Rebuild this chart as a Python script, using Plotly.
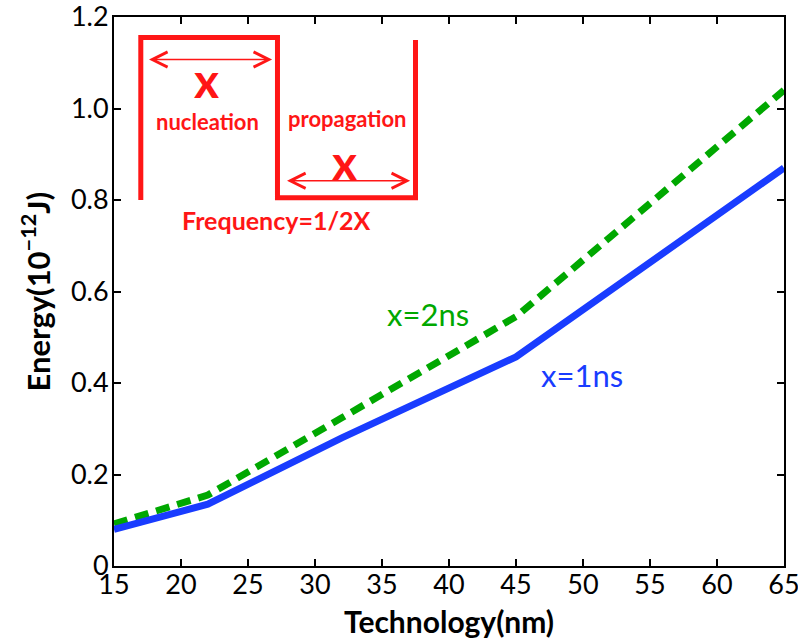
import plotly.graph_objects as go

# Technology node (nm) and switching energy (1e-12 J)
technology = [15, 22, 32, 45, 65]
energy_1ns = [0.080, 0.135, 0.280, 0.457, 0.870]
energy_2ns = [0.092, 0.155, 0.324, 0.545, 1.040]

x_ticks = [15, 20, 25, 30, 35, 40, 45, 50, 55, 60, 65]
y_ticks = [0, 0.2, 0.4, 0.6, 0.8, 1.0, 1.2]
y_tick_text = ["0", "0.2", "0.4", "0.6", "0.8", "1.0", "1.2"]

BLUE = "rgb(25,60,255)"
GREEN = "rgb(0,168,0)"
RED = "rgb(255,22,22)"
FONT = "Lato"

fig = go.Figure()
fig.add_trace(go.Scatter(x=technology, y=energy_2ns, mode="lines",
                         line=dict(color=GREEN, width=7, dash="14px,8px"),
                         showlegend=False))
fig.add_trace(go.Scatter(x=technology, y=energy_1ns, mode="lines",
                         line=dict(color=BLUE, width=7),
                         showlegend=False))

# Square-wave schematic of the write pulse (corners in data units)
wave_x = [17.0, 17.0, 27.2, 27.2, 37.5, 37.5]
wave_y = [0.800, 1.155, 1.155, 0.805, 0.805, 1.150]
path = "M " + " L ".join(f"{a},{b}" for a, b in zip(wave_x, wave_y))
fig.add_shape(type="path", path=path, xref="x", yref="y",
              line=dict(color=RED, width=5))

# Double-headed arrows marking each half period
arrows = [((17.5, 1.107), (26.8, 1.107)), ((27.8, 0.842), (37.1, 0.842))]
for (x0, y0), (x1, y1) in arrows:
    fig.add_annotation(x=x1, y=y1, ax=x0, ay=y0, xref="x", yref="y",
                       axref="x", ayref="y", text="", showarrow=True,
                       arrowhead=5, startarrowhead=5, arrowside="end+start",
                       arrowsize=2.0, startarrowsize=2.0, arrowwidth=1.5,
                       arrowcolor=RED)

labels = [
    (21.9, 1.063, "<b>x</b>", 48, RED),
    (32.2, 0.884, "<b>x</b>", 48, RED),
    (22.0, 0.972, "<b>nucleation</b>", 22, RED),
    (32.4, 0.978, "<b>propagation</b>", 22, RED),
    (27.1, 0.757, "<b>Frequency=1/2X</b>", 25, RED),
    (38.4, 0.551, "x=2ns", 31, GREEN),
    (49.9, 0.418, "x=1ns", 31, BLUE),
]
for x, y, t, s, c in labels:
    fig.add_annotation(x=x, y=y, xref="x", yref="y", text=t, showarrow=False,
                       xanchor="center", yanchor="middle",
                       font=dict(family=FONT, size=s, color=c))

# Axis titles
fig.add_annotation(x=-0.1164, y=0.5, xref="paper", yref="paper",
                   xanchor="center", yanchor="middle",
                   text="<b>Energy(10<sup>\u221212</sup>J)</b>", textangle=-90,
                   showarrow=False, font=dict(family=FONT, size=31, color="black"))
fig.add_annotation(x=0.5, y=-0.1, xref="paper", yref="paper",
                   xanchor="center", yanchor="middle",
                   text="<b>Technology(nm)</b>",
                   showarrow=False, font=dict(family=FONT, size=30, color="black"))

axis_common = dict(showline=True, linecolor="black", linewidth=2, mirror="ticks",
                   ticks="inside", ticklen=7, tickwidth=1.5, tickcolor="black",
                   showgrid=False, zeroline=False, ticklabeloverflow="allow",
                   automargin=False,
                   tickfont=dict(family=FONT, size=27, color="black"))

fig.update_xaxes(range=[15, 65], tickvals=x_ticks, ticklabelstandoff=-6,
                 **axis_common)
fig.update_yaxes(range=[0, 1.2], tickvals=y_ticks, ticktext=y_tick_text,
                 ticklabelstandoff=-2, **axis_common)

fig.update_layout(width=798, height=643, margin=dict(l=114, r=14, t=17, b=77),
                  plot_bgcolor="white", paper_bgcolor="white",
                  font=dict(family=FONT))

fig.write_html("out.html")
